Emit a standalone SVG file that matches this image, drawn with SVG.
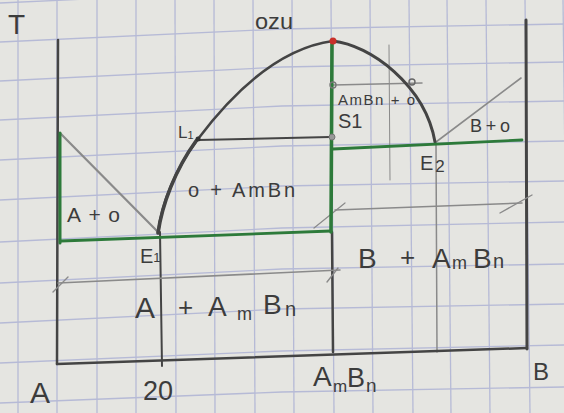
<svg xmlns="http://www.w3.org/2000/svg" width="564" height="413" viewBox="0 0 564 413">
<style>
.grid{fill:none;stroke:#b6bad6;stroke-width:1.3}
.pen{fill:none;stroke:#444;stroke-linecap:round;stroke-linejoin:round}
.lite{fill:none;stroke:#8a8a8a;stroke-linecap:round}
.green{fill:none;stroke:#2d7a3a;stroke-linecap:round;stroke-linejoin:round}
.t{font-family:"Liberation Sans",Arial,sans-serif;fill:#3c3c3c}
</style>
<rect width="564" height="413" fill="#e5e5e1"/>
<g id="grid">
<polyline class="grid" points="0,3 282,-10 564,-15"/>
<polyline class="grid" points="0,42 282,29 564,24"/>
<polyline class="grid" points="0,81 282,67 564,62"/>
<polyline class="grid" points="0,120 282,106 564,101"/>
<polyline class="grid" points="0,160 282,146 564,141"/>
<polyline class="grid" points="0,200 282,186 564,181"/>
<polyline class="grid" points="0,242 282,228 564,222"/>
<polyline class="grid" points="0,283 282,269 564,264"/>
<polyline class="grid" points="0,323 282,309 564,304"/>
<polyline class="grid" points="0,363 282,351 564,345"/>
<polyline class="grid" points="0,403 282,392 564,387"/>
<line class="grid" x1="18" y1="0" x2="18" y2="413"/>
<line class="grid" x1="57" y1="0" x2="57" y2="413"/>
<line class="grid" x1="97" y1="0" x2="97" y2="413"/>
<line class="grid" x1="136" y1="0" x2="136" y2="413"/>
<line class="grid" x1="175" y1="0" x2="176" y2="413"/>
<line class="grid" x1="214" y1="0" x2="215" y2="413"/>
<line class="grid" x1="253" y1="0" x2="255" y2="413"/>
<line class="grid" x1="292" y1="0" x2="294" y2="413"/>
<line class="grid" x1="331" y1="0" x2="334" y2="413"/>
<line class="grid" x1="370" y1="0" x2="373" y2="413"/>
<line class="grid" x1="409" y1="0" x2="413" y2="413"/>
<line class="grid" x1="447" y1="0" x2="451" y2="413"/>
<line class="grid" x1="486" y1="0" x2="490" y2="413"/>
<line class="grid" x1="525" y1="0" x2="530" y2="413"/>
<line class="grid" x1="563" y1="0" x2="568" y2="413"/>
</g>
<g id="faint-lines">
<line class="lite" x1="389" y1="45" x2="390" y2="180" stroke-width="1" stroke="#a0a0a0"/>
<line class="lite" x1="436" y1="143" x2="437" y2="352" stroke-width="1.5"/>
</g>
<g id="axes">
<line class="pen" x1="58" y1="40" x2="57" y2="364" stroke-width="2.5"/>
<line class="pen" x1="57" y1="364" x2="527" y2="348" stroke-width="2.5"/>
<line class="pen" x1="526" y1="20" x2="527" y2="349" stroke-width="3" stroke="#555"/>
<line class="pen" x1="160" y1="232" x2="162" y2="366" stroke-width="2"/>
<line class="pen" x1="332" y1="232" x2="333" y2="352" stroke-width="2.5" stroke="#333"/>
</g>
<g id="phase-lines">
<line class="lite" x1="60" y1="133" x2="158" y2="232" stroke-width="2.2" stroke="#8c8c8c"/>
<line class="pen" x1="198" y1="140" x2="330" y2="137" stroke-width="2" stroke="#555"/>
<line class="lite" x1="333" y1="85" x2="422" y2="83" stroke-width="1.5" stroke="#777"/>
<line class="lite" x1="436" y1="142" x2="521" y2="78" stroke-width="1.6" stroke="#6a6a6a"/>
<polyline class="lite" points="58,283 340,270" stroke-width="1.6" stroke="#6a6a6a"/>
<line class="lite" x1="53" y1="292" x2="68" y2="277" stroke-width="1.4" stroke="#6a6a6a"/>
<line class="lite" x1="327" y1="282" x2="338" y2="268" stroke-width="1.4" stroke="#6a6a6a"/>
<polyline class="lite" points="335,210 522,203" stroke-width="1.6" stroke="#6a6a6a"/>
<line class="lite" x1="314" y1="228" x2="345" y2="203" stroke-width="1.2" stroke="#8a8a8a"/>
<line class="lite" x1="500" y1="213" x2="532" y2="195" stroke-width="1.4" stroke="#6a6a6a"/>
<path class="pen" d="M158,233 C162,200 178,165 198,139 C235,90 280,48 333,41" stroke-width="2.6" stroke="#3a3a3a"/>
<path class="pen" d="M158,233 C162,205 175,170 196,141" stroke-width="3.6" stroke="#2e2e2e"/>
<path class="pen" d="M333,41 C370,45 425,85 435,142" stroke-width="3" stroke="#6e6e6e"/>
</g>
<g id="green-lines">
<polyline class="green" points="60,133 60,243" stroke-width="3"/>
<polyline class="green" points="61,241 331,231" stroke-width="2.8"/>
<polyline class="green" points="332,44 331,232" stroke-width="3.6"/>
<polyline class="green" points="333,149 522,140" stroke-width="2.8"/>
</g>
<g id="points">
<circle cx="333" cy="41" r="3.5" fill="#c8302a"/>
<circle cx="333" cy="85" r="3" fill="none" stroke="#777" stroke-width="1.4"/>
<circle cx="412" cy="82" r="3" fill="none" stroke="#666" stroke-width="1.4"/>
<circle cx="332" cy="137" r="3" fill="#999" stroke="#777" stroke-width="1"/>
<circle cx="198" cy="139" r="2.5" fill="#333"/>
</g>
<g id="labels">
<text class="t" x="8" y="34" font-size="28">T</text>
<text class="t" x="255" y="29" font-size="22" textLength="38" lengthAdjust="spacingAndGlyphs">ozu</text>
<text class="t" x="178" y="138" font-size="17">L<tspan font-size="11" dy="1">1</tspan></text>
<text class="t" x="188" y="197" font-size="20" textLength="107" lengthAdjust="spacing">o + AmBn</text>
<text class="t" x="67" y="222" font-size="21" textLength="53" lengthAdjust="spacing">A+o</text>
<text class="t" x="140" y="263" font-size="20">E<tspan font-size="13" dy="-1">1</tspan></text>
<text class="t" y="318"><tspan x="135" font-size="30">A</tspan><tspan x="178" font-size="26" dy="-2">+</tspan><tspan x="208" font-size="28">A</tspan><tspan x="237" font-size="18" dy="4">m</tspan><tspan x="263" font-size="28" dy="-6">B</tspan><tspan x="285" font-size="20" dy="2">n</tspan></text>
<text class="t" x="338" y="105" font-size="15" textLength="77" lengthAdjust="spacing">AmBn + o</text>
<text class="t" x="338" y="128" font-size="20">S1</text>
<text class="t" x="470" y="132" font-size="18" textLength="40" lengthAdjust="spacing">B+o</text>
<text class="t" x="420" y="170" font-size="20">E<tspan font-size="17" dx="2" dy="2">2</tspan></text>
<text class="t" y="268"><tspan x="358" font-size="28">B</tspan><tspan x="400" font-size="26" dy="-2">+</tspan><tspan x="432" font-size="28" dy="2">A</tspan><tspan x="452" font-size="18" dy="1">m</tspan><tspan x="473" font-size="28" dy="-1">B</tspan><tspan x="493" font-size="20">n</tspan></text>
<text class="t" x="30" y="403" font-size="30">A</text>
<text class="t" x="143" y="400" font-size="27">20</text>
<text class="t" y="386"><tspan x="313" font-size="28">A</tspan><tspan x="333" font-size="17" dy="6">m</tspan><tspan x="347" font-size="27" dy="-5">B</tspan><tspan x="366" font-size="19" dy="5">n</tspan></text>
<text class="t" x="533" y="380" font-size="24">B</text>
</g>
</svg>
